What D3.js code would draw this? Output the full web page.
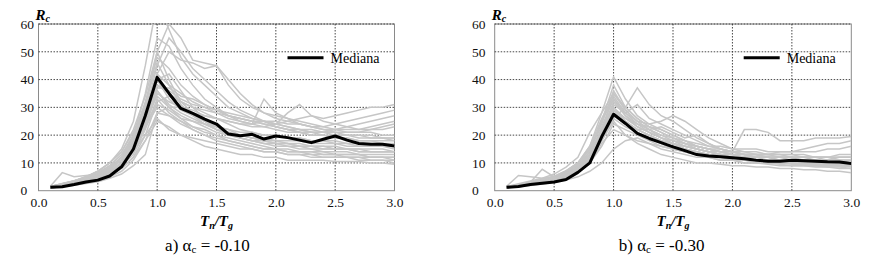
<!DOCTYPE html>
<html>
<head>
<meta charset="utf-8">
<script src="https://cdn.jsdelivr.net/npm/d3@7"></script>
<style>
  body { margin: 0; background: #fff; }
</style>
</head>
<body>
<div id="chart"></div>
<script>
// periods Tn/Tg where every record is sampled
const Tn = [0.1,0.2,0.3,0.4,0.5,0.6,0.7,0.8,0.9,1.0,1.1,1.2,1.3,1.4,1.5,1.6,1.7,1.8,1.9,2.0,2.1,2.2,2.3,2.4,2.5,2.6,2.7,2.8,2.9,3.0];

const xTicks = [0, 0.5, 1.0, 1.5, 2.0, 2.5, 3.0];
const yTicks = [0, 10, 20, 30, 40, 50, 60];

const captions = [
  {label: "a) ", value: "-0.10"},
  {label: "b) ", value: "-0.30"}
];
const legendLabel = "Mediana";

// median curves
const medianA = [1.2,1.4,2.2,3.1,3.8,5.3,8.6,15,27,40.8,35,29.6,27.8,25.8,24,20.4,19.8,20.3,18.6,19.7,19.1,18.2,17.3,18.5,19.7,18.2,17,16.7,16.7,16.1];
const medianB = [1.2,1.5,2.2,2.7,3.1,4,6.6,10,19.4,27.5,24.2,20.6,18.8,17.3,15.8,14.4,13,12.5,12.2,11.9,11.5,11,10.6,10.6,11,10.8,10.6,10.4,10.3,9.8];

// individual records, alpha_c = -0.10
const recordsA = [
  [1.5,2.5,3.5,5,7,10,15,25,45,68,58,48,42,38,34,30,28,26,25,24,23,22,22,21,21,20,20,20,19,19],
  [1.2,2,3,4,5.5,8,12,20,35,55,52,44,38,33,30,27,25,24,23,22,21,21,20,20,19,19,18,18,18,18],
  [1.3,2,2.8,4,5,7,10,16,28,45,55,50,44,40,36,32,29,27,25,24,23,22,21,21,20,20,20,19,19,19],
  [1.4,2.2,3,4,5.5,8,11,18,30,42,50,47,46,44,45,38,33,30,28,27,26,25,24,23,24,25,26,27,28,29],
  [1.6,6.5,5,5.5,6,9,13,20,32,48,44,38,34,31,29,27,26,25,24,23,22,21,21,20,20,20,19,19,19,18],
  [1.2,1.8,2.5,3.5,4.5,6,9,14,24,38,35,32,30,28,26,25,24,24,25,23,22,22,21,21,22,23,24,25,26,27],
  [1.1,1.6,2.2,3,4,5.5,8,12,20,32,34,32,30,29,28,26,25,24,33,28,26,24,23,22,21,21,21,22,22,23],
  [1.0,1.5,2,2.8,3.5,5,7,11,18,28,30,30,29,27,26,24,22,21,20,20,19,19,18,18,17,17,16,16,16,16],
  [1.3,2,3,4,6,8,12,18,28,40,33,29,27,25,23,22,20,19,18,17,17,16,16,15,15,15,14,14,14,14],
  [1.5,2.5,3.5,5,7,10,14,22,34,50,40,32,28,25,22,20,19,18,17,16,16,15,15,14,14,14,13,13,13,13],
  [1.2,1.8,2.5,3.5,5,7,10,14,20,26,22,20,19,18,17,16,15,15,14,14,13,13,13,12,12,12,12,12,12,11],
  [1.4,2,3,4,5,7,10,15,24,36,30,26,23,21,20,18,17,16,15,15,14,14,13,13,13,12,12,11,11,11],
  [1.0,1.5,2,3,4,6,9,13,22,33,28,25,23,22,20,19,18,17,16,15,15,14,14,14,13,13,13,12,12,12],
  [1.3,2,3,4,5.5,8,11,17,27,38,36,33,31,30,29,28,27,26,25,24,25,26,27,26,27,28,29,30,30,31],
  [1.2,1.8,2.6,3.5,4.5,6.5,9,14,23,35,32,30,28,27,26,25,24,23,23,24,28,31,27,25,24,23,22,22,23,24],
  [1.1,1.6,2.3,3.2,4.2,6,8,12,18,25,23,20,18,16,15,14,13,13,12,12,11,11,11,11,10.5,10.5,10.5,10,10,9.5],
  [1.4,2.4,3.5,5,7,10,14,21,30,42,38,35,32,30,28,27,26,25,24,23,22,21,20,20,19,19,18,18,17,17],
  [1.1,1.5,2,2.6,3.2,4.5,6,9,13,28,27,25,22,20,18,17,16,15,14,14,13,13,12,12,12,12,11,11,11,10],
  [1.3,2,3,4,5,7.5,11,17,30,50,60,55,47,46,45,40,35,31,28,26,25,24,23,22,22,21,21,21,20,20],
  [1.2,2,2.8,3.8,5,7,10,16,26,40,42,36,30,26,23,21,19,18,17,17,16,16,15,15,15,15,14,14,14,14],
  [1.5,2.3,3.2,4.5,6,8.5,12,19,31,46,38,31,27,24,22,21,20,19,19,18,18,18,17,17,17,16,16,16,16,15],
  [1.3,2.2,3.2,4.5,6,8,12,17,24,31,29,26,25,24,23,22,21,21,20,20,19,19,18,18,18,17,17,17,16,16],
  [1.2,1.8,2.6,3.5,5,7,10,15,25,37,37,34,33,31,29,27,26,25,25,25,24,24,23,23,22,22,22,23,24,25],
  [1.4,2.6,3.6,4.8,6.5,9,13,19,29,36,31,28,26,24,22,21,20,19,18,18,17,17,16,16,16,15,15,15,15,14],
  [1.2,1.9,2.7,3.7,4.8,6.6,9.5,15,23,30,27,24,22,20,19,18,17,16,15,15,14,14,14,13,13,13,13,12,12,12],
  [1.3,2.1,3,4.2,5.6,8,11,17,26,34,30,27,25,23,21,20,19,18,18,17,17,16,16,16,15,15,15,14,14,14]
];

// individual records, alpha_c = -0.30
const recordsB = [
  [1.3,2,3,4,5,7,10,16,28,41,33,27,24,22,20,18,16,15,14,14,13,13,12,12,12,11,11,11,11,10],
  [1.2,1.8,2.6,3.4,4.5,6,9,14,25,38,30,26,23,21,19,17,16,15,14,13,13,12,12,12,11,11,11,10,10,10],
  [1.1,1.6,2.2,3,3.8,5,7,11,18,26,30,37,31,27,25,22,19,17,15,14,14,13,13,13,13,13,12,12,12,12],
  [1.4,2.2,3,4,5,7,10,16,26,34,28,31,26,24,22,20,18,16,15,14,13,13,13,13,12,12,12,12,13,13],
  [1.2,1.9,2.7,3.6,4.6,6.5,9,13,22,31,28,25,24,25,27,25,22,19,17,15,14,14,13,13,13,12,12,12,12,12],
  [1.3,2,2.8,3.7,4.8,6.5,9,14,22,30,26,23,21,19,18,17,16,15,15,14,22,22,21,18,18,18,19,19,19,19.5],
  [1.6,5.5,5,4.5,5,7,10,15,23,33,27,23,21,19,18,16,15,14,13,13,12,12,12,11,11,11,11,10,10,10],
  [1.2,2,3,7.7,5,6.5,9,13,20,28,25,22,20,18,17,16,15,14,13,13,12,12,11,11,11,11,11,10,10,10],
  [1.5,2.5,3.5,4.5,6,8.5,12,21,28,35,29,25,22,20,18,17,16,15,14,14,13,13,13,12,12,12,12,11,11,11],
  [1.0,1.4,1.9,2.4,3,3.8,5,7,10,15,18,19,17,15,14,13,12,12,11,11,10,10,10,9.5,9,9,9,8.5,8.5,8],
  [1.1,1.6,2.2,2.9,3.7,5,7,10,16,24,22,20,18,16,15,14,13,12,12,11,11,10,10,10,9.5,9.5,9,9,9,9],
  [1.2,1.8,2.5,3.3,4.2,5.5,8,12,19,27,24,21,19,17,15,14,13,12,11,11,10,10,9.5,9,9,9,8.5,8.5,8,8],
  [1.3,2,2.8,3.6,4.6,6,8.5,13,21,32,27,24,22,20,19,18,17,16,16,15,15,15,14,14,14,14,14,15,15,16],
  [1.1,1.7,2.4,3.2,4,5.5,7.5,11,18,25,20,17,15,13,12,11,10,10,9.5,9,9,8.5,8.5,8,8,7.5,7.5,7,7,6.5],
  [1.2,1.9,2.7,3.5,4.5,6,8.5,13,22,30,25,22,20,18,17,16,15,14,14,13,13,13,13,14,14,15,16,17,17,18],
  [1.4,2.1,2.9,3.8,4.9,6.8,9.5,15,24,36,29,25,22,19,17,15,14,13,12,12,11,11,11,10,10,10,9.5,9.5,9,9],
  [1.2,1.7,2.4,3.1,4,5.2,7,10,17,22,20,18,17,16,15,14,13,13,12,12,12,11,11,11,11,11,11,11,12,12],
  [1.3,2,2.7,3.5,4.4,6,8.5,13,21,29,26,24,23,22,20,18,16,15,14,13,13,12,12,12,12,12,11,11,11,11],
  [1.1,1.6,2.3,3,3.9,5,7,11,19,28,24,22,22,23,21,19,20,17,15,14,13,13,12,12,12,12,12,12,11,11],
  [1.2,1.8,2.5,3.3,4.2,5.8,8,12,20,26,23,21,19,17,16,15,14,13,12,12,11,11,11,10,10,10,10,9.5,9.5,9],
  [1.3,2.2,3.1,4,5.2,7.2,10,15,25,33,28,24,21,19,17,16,15,14,13,13,12,12,12,11,11,11,10,10,10,10],
  [1.2,1.8,2.5,3.2,4.1,5.6,8,12,20,29,25,22,20,18,17,15,14,13,13,12,12,11,11,11,10,10,10,10,9.5,9.5],
  [1.1,1.7,2.4,3.1,4,5.4,7.6,12,21,35,30,26,23,21,19,17,15,14,13,12,11,11,10,10,10,9.5,9.5,9,9,8.5]
];

const plotTop = 24, plotBottom = 190.7;
const serif = "'Liberation Serif', 'Times New Roman', 'DejaVu Serif', serif";

function add_svg(wrapper)
{
  var svg = d3.select(wrapper).select("svg");

  if (svg.empty())
    svg = d3.select(wrapper).append("svg");
  else
    svg.selectAll("*").remove();

  return svg.attr("width", 873).attr("height", 260);
}

function draw_panel(svg, p, records, median, caption, id)
{
  const x = d3.scaleLinear().domain([0, 3]).range([p.left, p.right]);
  const y = d3.scaleLinear().domain([0, 60]).range([plotBottom, plotTop]);
  const g = svg.append("g");

  g.append("clipPath").attr("id", "clip" + id)
    .append("rect")
      .attr("x", p.left).attr("y", plotTop)
      .attr("width", p.right - p.left).attr("height", plotBottom - plotTop);

  // frame
  g.append("rect")
    .attr("x", p.left).attr("y", plotTop)
    .attr("width", p.right - p.left).attr("height", plotBottom - plotTop)
    .attr("fill", "none")
    .attr("stroke", "#8a8a8a")
    .attr("stroke-width", 1);

  // dotted grid
  g.selectAll("vGrid")
    .data(xTicks.filter(d => d > 0 && d < 3))
    .enter()
    .append("line")
      .attr("x1", d => x(d)).attr("x2", d => x(d))
      .attr("y1", plotTop).attr("y2", plotBottom)
      .attr("stroke", "#333")
      .attr("stroke-width", 0.9)
      .attr("stroke-dasharray", "1.5,1.5");

  g.selectAll("hGrid")
    .data(yTicks.filter(d => d > 0))
    .enter()
    .append("line")
      .attr("x1", p.left).attr("x2", p.right)
      .attr("y1", d => y(d)).attr("y2", d => y(d))
      .attr("stroke", "#333")
      .attr("stroke-width", 0.9)
      .attr("stroke-dasharray", "1.5,1.5");

  const line = d3.line()
    .x((d, i) => x(Tn[i]))
    .y(d => y(d));

  const lines = g.append("g").attr("clip-path", `url(#clip${id})`);

  lines.selectAll("records")
    .data(records)
    .enter()
    .append("path")
      .attr("d", line)
      .attr("fill", "none")
      .attr("stroke", "#c6c6c6")
      .attr("stroke-width", 1.5);

  lines.append("path")
    .attr("d", line(median))
    .attr("fill", "none")
    .attr("stroke", "#000")
    .attr("stroke-width", 3)
    .attr("stroke-linejoin", "round");

  // x tick labels
  const xAxis = g.append("g")
    .attr("transform", `translate(0,${plotBottom})`)
    .call(d3.axisBottom(x).tickValues(xTicks).tickSize(0).tickPadding(7).tickFormat(d3.format(".1f")));
  xAxis.select(".domain").remove();
  xAxis.selectAll("text")
    .style("font-family", serif)
    .style("font-size", "13.5px")
    .attr("fill", "#111");

  // y tick labels, left aligned
  g.selectAll("yLabels")
    .data(yTicks)
    .enter()
    .append("text")
      .attr("x", p.labelX)
      .attr("y", d => y(d))
      .attr("dy", "0.35em")
      .style("font-family", serif)
      .style("font-size", "13.5px")
      .attr("fill", "#111")
      .text(d => d);

  // axis titles
  const rc = g.append("text")
    .attr("x", p.left - 3)
    .attr("y", plotTop - 4)
    .style("font-family", serif)
    .style("font-size", "15px")
    .style("font-weight", "bold")
    .style("font-style", "italic");
  rc.append("tspan").text("R");
  rc.append("tspan").style("font-size", "10px").attr("dy", 2).text("c");

  const tt = g.append("text")
    .attr("x", (p.left + p.right) / 2)
    .attr("y", 226)
    .attr("text-anchor", "middle")
    .style("font-family", serif)
    .style("font-size", "15px")
    .style("font-weight", "bold")
    .style("font-style", "italic");
  tt.append("tspan").text("T");
  tt.append("tspan").style("font-size", "10px").attr("dy", 3).text("n");
  tt.append("tspan").attr("dy", -3).text("/T");
  tt.append("tspan").style("font-size", "10px").attr("dy", 3).text("g");

  // caption
  const cap = g.append("text")
    .attr("x", (p.labelX + p.right) / 2)
    .attr("y", 251)
    .attr("text-anchor", "middle")
    .style("font-family", serif)
    .style("font-size", "17px");
  cap.append("tspan").text(caption.label + "\u03b1");
  cap.append("tspan").style("font-size", "11px").attr("dy", 2).text("c");
  cap.append("tspan").attr("dy", -2).text(" = " + caption.value);

  // legend
  g.append("line")
    .attr("x1", p.left + 249).attr("x2", p.left + 285)
    .attr("y1", 57.7).attr("y2", 57.7)
    .attr("stroke", "#000")
    .attr("stroke-width", 3);
  g.append("text")
    .attr("x", p.left + 292)
    .attr("y", 57.7)
    .attr("dy", "0.35em")
    .style("font-family", serif)
    .style("font-size", "14px")
    .text(legendLabel);
}

const svg = add_svg("#chart");
draw_panel(svg, {left: 38.5, right: 394.5, labelX: 20.5}, recordsA, medianA, captions[0], "a");
draw_panel(svg, {left: 494.7, right: 851.3, labelX: 472}, recordsB, medianB, captions[1], "b");
</script>
</body>
</html>
